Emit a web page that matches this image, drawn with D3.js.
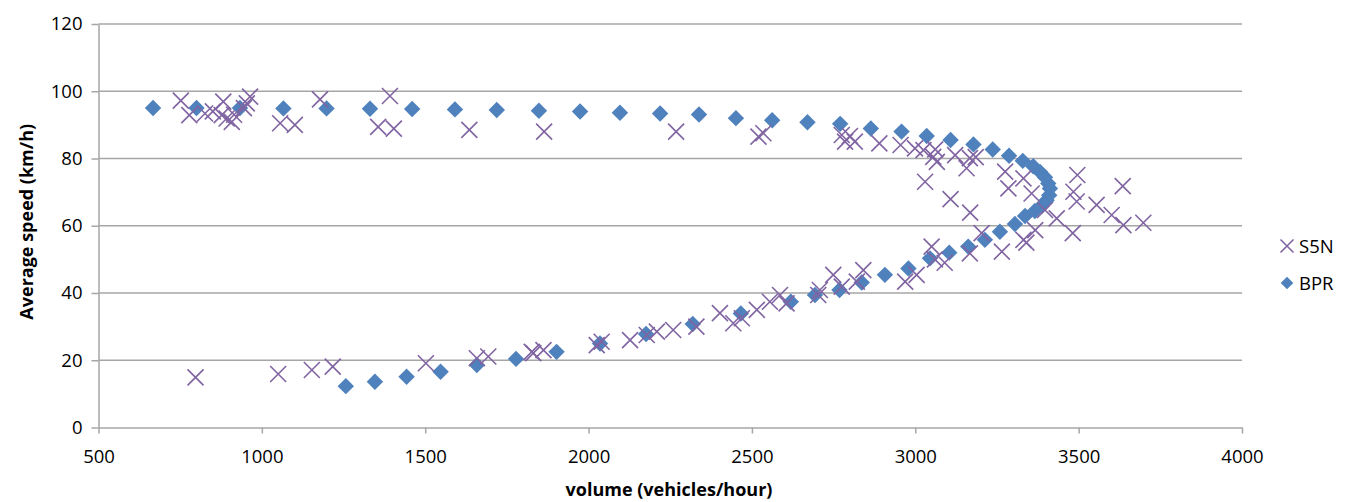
<!DOCTYPE html>
<html>
<head>
<meta charset="utf-8">
<script src="https://cdn.jsdelivr.net/npm/d3@7"></script>
<style>
  body { margin: 0; background: #fff; }
  text { font-family: "Open Sans", "Noto Sans", sans-serif; fill: #000; }
  .grid line { stroke: #a6a6a6; stroke-width: 1.5; }
  .axis path, .axis line { stroke: #a6a6a6; stroke-width: 1.5; }
</style>
</head>
<body>
<div id="chart"></div>
<script>
// S5N measured points: volume (veh/h), speed (km/h)
var s5nVolume = [752, 778, 826, 850, 877, 882, 892, 908, 915, 945, 954, 964, 1056, 1101, 1178, 1356, 1392, 1404, 1635, 1864, 2268, 2520, 2535, 2775, 2785, 2800, 2815, 2890, 2955, 2999,
  3025, 3061, 3055, 3066, 3030, 3122, 3157, 3167, 3185, 3108, 3168, 3275, 3285, 3331, 3356, 3397, 3433, 3482, 3496, 3484, 3494, 3555, 3601, 3635, 3637, 3698,
  3367, 3331, 3203, 3265, 3050, 3167, 3060, 3090, 3340,
  797, 1050, 1153, 1217, 1502, 1658, 1693, 1826, 1831, 1862, 2025, 2040, 2127, 2178, 2209, 2259, 2330, 2402, 2443, 2469, 2515, 2555, 2586, 2606, 2708, 2703,
  2749, 2775, 2841, 2821, 2969, 3004];
var s5nSpeed = [97.2, 92.9, 93.4, 94.0, 92.9, 96.9, 91.9, 90.9, 93.0, 95.0, 96.4, 98.4, 90.5, 90.0, 97.6, 89.4, 98.6, 88.9, 88.5, 88.0, 88.0, 86.5, 87.5, 87.0, 85.0, 86.7, 85.0, 84.5, 84.0, 83.0,
  82.5, 82.7, 80.5, 79.0, 73.1, 81.0, 77.1, 80.1, 80.4, 67.9, 63.9, 76.1, 71.1, 74.1, 69.6, 64.7, 62.2, 57.8, 75.1, 70.1, 67.2, 66.2, 63.2, 71.8, 60.2, 60.9,
  58.7, 55.8, 57.8, 52.3, 53.8, 51.8, 50.0, 49.0, 55.0,
  14.9, 15.9, 17.1, 18.1, 19.1, 20.6, 21.1, 22.5, 22.1, 23.0, 24.5, 25.5, 26.0, 27.5, 28.5, 29.0, 30.0, 34.0, 31.0, 32.5, 35.0, 37.4, 39.4, 36.9, 40.9, 39.4,
  45.4, 41.9, 46.8, 43.4, 43.4, 45.4];

// BPR model curve points
var bprVolume = [1257, 1346, 1443, 1547, 1658, 1778, 1902, 2035, 2176, 2319, 2466, 2619, 2693, 2768, 2836, 2907, 2979, 3045, 3104, 3162, 3213, 3259, 3305, 3336, 3366, 3387, 3402, 3410, 3412,
  3407, 3397, 3382, 3361, 3329, 3287, 3237, 3178, 3108, 3035, 2958, 2864, 2770, 2670, 2562, 2451, 2338, 2219, 2096, 1974, 1848, 1719, 1591, 1460, 1331, 1198, 1066, 933, 800, 667];
var bprSpeed = [12.3, 13.6, 15.1, 16.6, 18.6, 20.4, 22.5, 25.0, 27.8, 30.8, 33.9, 37.4, 39.4, 40.9, 43.1, 45.4, 47.3, 50.3, 52.0, 53.8, 55.8, 58.2, 60.5, 62.9, 64.4, 65.9, 67.6, 69.1, 71.1,
  72.6, 74.4, 76.0, 77.7, 79.3, 80.8, 82.7, 84.2, 85.5, 86.7, 88.0, 88.9, 90.3, 90.8, 91.4, 92.0, 93.1, 93.4, 93.6, 94.0, 94.2, 94.4, 94.6, 94.7, 94.8, 94.9, 94.9, 95.0, 95.0, 95.0];

var xTicks = [500, 1000, 1500, 2000, 2500, 3000, 3500, 4000];
var yTicks = [0, 20, 40, 60, 80, 100, 120];
var seriesNames = ["S5N", "BPR"];

var width = 1358, height = 502;
var margin = { top: 24, right: 116, bottom: 74.5, left: 98.5 };
var plotW = width - margin.left - margin.right;
var plotH = height - margin.top - margin.bottom;

var svg = d3.select("#chart").append("svg")
  .attr("width", width)
  .attr("height", height);

var g = svg.append("g")
  .attr("transform", "translate(" + margin.left + "," + margin.top + ")");

var xScale = d3.scaleLinear().domain([500, 4000]).range([0, plotW]);
var yScale = d3.scaleLinear().domain([0, 120]).range([plotH, 0]);

// horizontal gridlines
g.append("g").attr("class", "grid")
  .selectAll("line")
  .data(yTicks.slice(1))
  .enter().append("line")
  .attr("x1", 0).attr("x2", plotW)
  .attr("y1", function(d) { return yScale(d); })
  .attr("y2", function(d) { return yScale(d); });

var xAxis = d3.axisBottom(xScale).tickValues(xTicks).tickFormat(d3.format("d"))
  .tickSize(6).tickSizeOuter(0).tickPadding(16);
var yAxis = d3.axisLeft(yScale).tickValues(yTicks).tickFormat(d3.format("d"))
  .tickSize(7).tickSizeOuter(0).tickPadding(9);

var gx = g.append("g").attr("class", "axis")
  .attr("transform", "translate(0," + plotH + ")")
  .call(xAxis);
gx.selectAll("text").style("font-size", "18.5px");

var gy = g.append("g").attr("class", "axis").call(yAxis);
gy.selectAll("text").style("font-size", "18.5px");

// axis titles
svg.append("text")
  .attr("x", 669).attr("y", 496)
  .attr("text-anchor", "middle")
  .style("font-size", "18px").style("font-weight", "bold")
  .text("volume (vehicles/hour)");

svg.append("text")
  .attr("transform", "translate(33," + (margin.top + plotH / 2 - 4) + ") rotate(-90)")
  .attr("text-anchor", "middle")
  .style("font-size", "18px").style("font-weight", "bold")
  .text("Average speed (km/h)");

var diamond = d3.symbol().type(d3.symbolSquare).size(135);
var blue = "#4f81bd", purple = "#8064a2";

// BPR diamonds
g.append("g").selectAll("path")
  .data(d3.range(bprVolume.length))
  .enter().append("path")
  .attr("d", diamond)
  .attr("fill", blue)
  .attr("transform", function(i) {
    return "translate(" + xScale(bprVolume[i]) + "," + yScale(bprSpeed[i]) + ") rotate(45)";
  });

// S5N crosses
function crossPath(s) {
  return "M" + (-s) + "," + (-s) + "L" + s + "," + s + "M" + (-s) + "," + s + "L" + s + "," + (-s);
}
g.append("g").selectAll("path")
  .data(d3.range(s5nVolume.length))
  .enter().append("path")
  .attr("d", crossPath(8))
  .attr("fill", "none")
  .attr("stroke", purple)
  .attr("stroke-width", 1.6)
  .attr("transform", function(i) {
    return "translate(" + xScale(s5nVolume[i]) + "," + yScale(s5nSpeed[i]) + ")";
  });

// legend
var legend = svg.append("g").attr("transform", "translate(1287,246)");
legend.append("path").attr("d", crossPath(6.5))
  .attr("fill", "none").attr("stroke", purple).attr("stroke-width", 1.6);
legend.append("path").attr("d", d3.symbol().type(d3.symbolSquare).size(80))
  .attr("fill", blue)
  .attr("transform", "translate(0,37) rotate(45)");
legend.selectAll("text")
  .data(seriesNames)
  .enter().append("text")
  .attr("x", 12)
  .attr("y", function(d, i) { return i * 37 + 7; })
  .style("font-size", "18.5px")
  .text(function(d) { return d; });
</script>
</body>
</html>
